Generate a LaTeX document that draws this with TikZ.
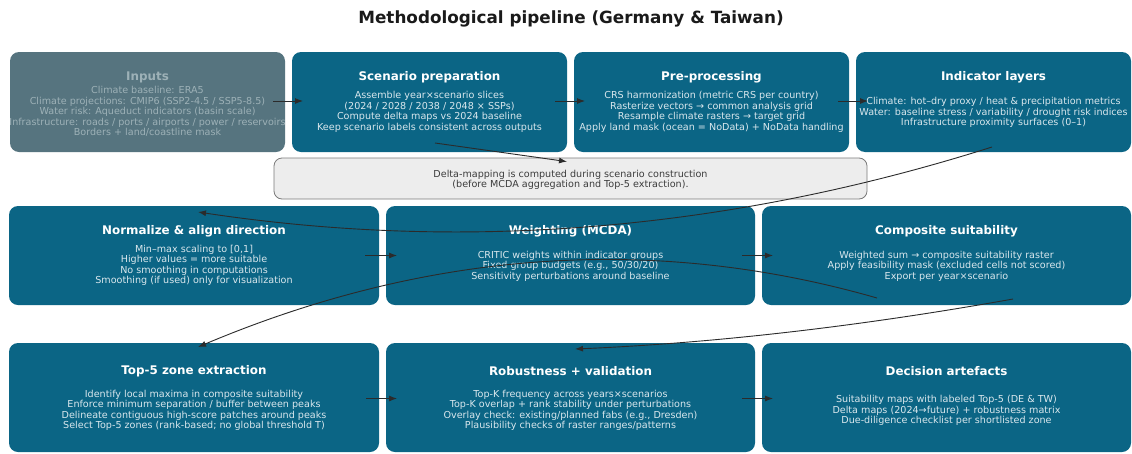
\documentclass[tikz,border=0pt]{standalone}
\usepackage{fontspec}
\setmainfont{DejaVu Sans}
\usetikzlibrary{arrows.meta,calc}
\definecolor{tealbox}{HTML}{0B6585}
\definecolor{inpfill}{HTML}{56747F}
\definecolor{inptxt}{HTML}{9DB1B7}
\definecolor{bodytxt}{HTML}{D9E7ED}
\definecolor{notefill}{HTML}{EDEDED}
\definecolor{notedraw}{HTML}{7A7A7A}
\definecolor{arrcol}{HTML}{2B2B2B}
\definecolor{titlecol}{HTML}{1A1A1A}
\begin{document}
\begin{tikzpicture}[x=1pt,y=-1pt,
  stagebox/.style={draw=none, fill=tealbox, rounded corners=9pt, inner sep=0pt, outer sep=0pt},
  rowone/.style={stagebox, minimum width=275pt, minimum height=100pt},
  rowtwo/.style={stagebox, minimum width=369pt, minimum height=99pt},
  rowthree/.style={stagebox, minimum width=369pt, minimum height=109pt},
  ttl/.style={text=white, inner sep=0pt, font=\fontsize{11.9}{13}\selectfont\bfseries},
  bdy/.style={text=bodytxt, align=center, inner sep=0pt, font=\fontsize{9.6}{10.45}\selectfont},
  flow/.style={draw=arrcol, line width=0.9pt, -{Latex[length=8pt,width=6pt]}},
]
\useasboundingbox (0,0) rectangle (1132,453);
\fill[white] (0,0) rectangle (1132,453);

\node[text=titlecol, font=\fontsize{16.8}{19}\selectfont\bfseries] (title) at (571,18.5) {Methodological pipeline (Germany \& Taiwan)};

% Row 1
\node[rowone, fill=inpfill] (inputs) at (147.5,102) {};
\node[rowone] (scen) at (429.5,102) {};
\node[rowone] (pre) at (711.5,102) {};
\node[rowone] (ind) at (993.5,102) {};

\node[ttl, text=inptxt] (inputs-t) at (147.5,77) {Inputs};
\node[bdy, text=inptxt] (inputs-b) at (147.5,111.5) {Climate baseline: ERA5\\Climate projections: CMIP6 (SSP2-4.5 / SSP5-8.5)\\Water risk: Aqueduct indicators (basin scale)\\Infrastructure: roads / ports / airports / power / reservoirs\\Borders + land/coastline mask};

\node[ttl] (scen-t) at (429.5,77) {Scenario preparation};
\node[bdy] (scen-b) at (429.5,112) {Assemble year×scenario slices\\(2024 / 2028 / 2038 / 2048 × SSPs)\\Compute delta maps vs 2024 baseline\\Keep scenario labels consistent across outputs};

\node[ttl] (pre-t) at (711.5,77) {Pre-processing};
\node[bdy] (pre-b) at (711.5,112) {CRS harmonization (metric CRS per country)\\Rasterize vectors → common analysis grid\\Resample climate rasters → target grid\\Apply land mask (ocean = NoData) + NoData handling};

\node[ttl] (ind-t) at (993.5,77) {Indicator layers};
\node[bdy] (ind-b) at (993.5,112.5) {Climate: hot–dry proxy / heat \& precipitation metrics\\Water: baseline stress / variability / drought risk indices\\Infrastructure proximity surfaces (0–1)};

% Note
\node[draw=notedraw, fill=notefill, line width=0.8pt, rounded corners=8pt, minimum width=593pt, minimum height=41pt, inner sep=0pt] (note) at (570.5,178.5) {};
\node[text=titlecol!85, align=center, inner sep=0pt, font=\fontsize{9.6}{10.45}\selectfont] (note-t) at (570.5,180) {Delta-mapping is computed during scenario construction\\(before MCDA aggregation and Top-5 extraction).};

% Row 2
\node[rowtwo, minimum width=370pt] (norm) at (194,255.5) {};
\node[rowtwo] (weight) at (570.5,255.5) {};
\node[rowtwo] (comp) at (946.5,255.5) {};

\node[ttl] (norm-t) at (194,231) {Normalize \& align direction};
\node[bdy] (norm-b) at (194,265.5) {Min–max scaling to [0,1]\\Higher values = more suitable\\No smoothing in computations\\Smoothing (if used) only for visualization};

\node[ttl] (weight-t) at (570.5,231) {Weighting (MCDA)};
\node[bdy] (weight-b) at (570.5,266) {CRITIC weights within indicator groups\\Fixed group budgets (e.g., 50/30/20)\\Sensitivity perturbations around baseline};

\node[ttl] (comp-t) at (946.5,231) {Composite suitability};
\node[bdy] (comp-b) at (946.5,266) {Weighted sum → composite suitability raster\\Apply feasibility mask (excluded cells not scored)\\Export per year×scenario};

% Row 3
\node[rowthree, minimum width=370pt] (top) at (194,397.5) {};
\node[rowthree] (rob) at (570.5,397.5) {};
\node[rowthree] (dec) at (946.5,397.5) {};

\node[ttl] (top-t) at (194,371) {Top-5 zone extraction};
\node[bdy] (top-b) at (194,410.5) {Identify local maxima in composite suitability\\Enforce minimum separation / buffer between peaks\\Delineate contiguous high-score patches around peaks\\Select Top-5 zones (rank-based; no global threshold T)};

\node[ttl] (rob-t) at (570.5,371) {Robustness + validation};
\node[bdy] (rob-b) at (570.5,410.5) {Top-K frequency across years×scenarios\\Top-K overlap + rank stability under perturbations\\Overlay check: existing/planned fabs (e.g., Dresden)\\Plausibility checks of raster ranges/patterns};

\node[ttl] (dec-t) at (946.5,371) {Decision artefacts};
\node[bdy] (dec-b) at (946.5,410.5) {Suitability maps with labeled Top-5 (DE \& TW)\\Delta maps (2024→future) + robustness matrix\\Due-diligence checklist per shortlisted zone};

% Straight flows
\draw[flow] ($(inputs.east)+(-12,-1)$) -- ($(scen.west)+(11,-1)$);
\draw[flow] ($(scen.east)+(-12,-1)$) -- ($(pre.west)+(11,-1)$);
\draw[flow] ($(pre.east)+(-11,-1)$) -- ($(ind.west)+(12,-1)$);
\draw[flow] ($(norm.east)+(-14,0)$) -- ($(weight.west)+(11,0)$);
\draw[flow] ($(weight.east)+(-13,0)$) -- ($(comp.west)+(11,0)$);
\draw[flow] ($(top.east)+(-13,1)$) -- ($(rob.west)+(11,1)$);
\draw[flow] ($(rob.east)+(-13,1)$) -- ($(dec.west)+(11,1)$);

% Curved flows
\draw[flow] ($(scen.south)+(5.5,-9)$) -- ($(note.north)+(-3.5,4)$);
\draw[flow] ($(ind.south)+(-1.5,-5)$) .. controls (727,231) and (463,252) .. ($(norm.north)+(4,6)$);
\draw[flow] ($(comp.south)+(-69.5,-7)$) .. controls (654,234) and (428,250) .. ($(top.north)+(4,4)$);
\draw[flow] ($(comp.south)+(66.5,-6)$) .. controls (862,326) and (716,343) .. ($(rob.north)+(4.5,6)$);
\end{tikzpicture}
\end{document}
